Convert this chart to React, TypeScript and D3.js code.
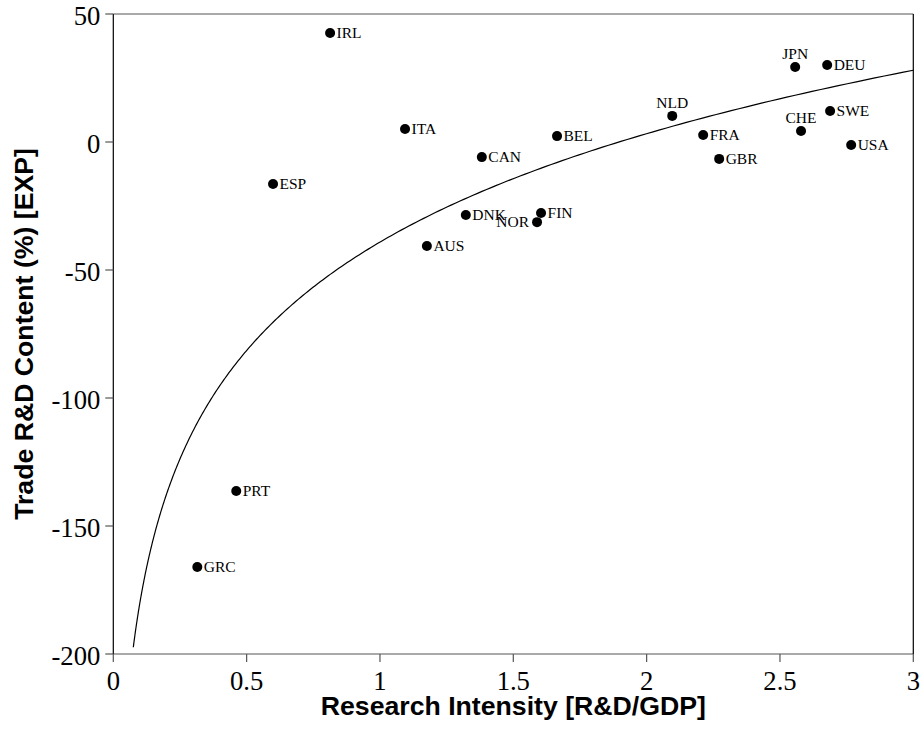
import React from "react";
import * as d3 from "d3";

const countries = ["IRL", "ITA", "CAN", "BEL", "ESP", "DNK", "NOR", "FIN", "AUS", "NLD", "FRA", "GBR", "JPN", "DEU", "CHE", "SWE", "USA", "PRT", "GRC"];
const researchIntensity = [0.813, 1.094, 1.382, 1.664, 0.599, 1.322, 1.589, 1.604, 1.176, 2.096, 2.212, 2.272, 2.557, 2.677, 2.579, 2.688, 2.767, 0.461, 0.315];
const tradeRD = [42.6, 5.1, -5.9, 2.3, -16.4, -28.5, -31.3, -27.7, -40.6, 10.2, 2.7, -6.6, 29.3, 30.1, 4.3, 12.1, -1.2, -136.3, -166.0];
const labelPos = ["right", "right", "right", "right", "right", "right", "left", "right", "right", "top", "right", "right", "top", "right", "top", "right", "right", "right", "right"];

const xTicks = [0, 0.5, 1, 1.5, 2, 2.5, 3];
const yTicks = [50, 0, -50, -100, -150, -200];

// logarithmic fit: y = FIT_A + FIT_B * ln(x)
const FIT_A = -39.1;
const FIT_B = 61.1;
const FIT_X_START = 0.075;
const FIT_X_END = 3;

const W = 924;
const H = 730;
const L = 113.3, R = 913.3, T = 14, B = 654;

export default function App() {
  const x = d3.scaleLinear().domain([0, 3]).range([L, R]);
  const y = d3.scaleLinear().domain([-200, 50]).range([B, T]);

  const fitXs = d3.range(0, 301).map((i) => FIT_X_START * Math.pow(FIT_X_END / FIT_X_START, i / 300));
  const line = d3
    .line<number>()
    .x((v) => x(v))
    .y((v) => y(FIT_A + FIT_B * Math.log(v)))
    .curve(d3.curveLinear);

  const serif = "'Liberation Serif', 'Times New Roman', serif";
  const sans = "'Liberation Sans', Arial, sans-serif";
  const tickColor = "#555";

  return (
    <svg width={W} height={H} style={{ position: "absolute", left: 0, top: 0, background: "#fff" }}>
      <rect x={0} y={0} width={W} height={H} fill="#fff" />
      {/* frame */}
      <line x1={L} x2={R} y1={T} y2={T} stroke={tickColor} strokeWidth={1.2} />
      <line x1={L} x2={R} y1={B} y2={B} stroke={tickColor} strokeWidth={1.2} />
      <line x1={L} x2={L} y1={T} y2={B} stroke="#000" strokeWidth={1.2} />
      <line x1={R} x2={R} y1={T} y2={B} stroke="#000" strokeWidth={1.2} />

      {yTicks.map((t) => (
        <g key={"y" + t}>
          <line x1={L - 8} x2={L} y1={y(t)} y2={y(t)} stroke={tickColor} strokeWidth={1.2} />
          <text x={L - 13} y={y(t) + 11} textAnchor="end" fontFamily={serif} fontSize={26.67} fill="#000">
            {String(t)}
          </text>
        </g>
      ))}
      {xTicks.map((t) => (
        <g key={"x" + t}>
          <line x1={x(t)} x2={x(t)} y1={B} y2={B + 8} stroke={tickColor} strokeWidth={1.2} />
          <text x={x(t)} y={690} textAnchor="middle" fontFamily={serif} fontSize={26.67} fill="#000">
            {String(t)}
          </text>
        </g>
      ))}

      <path d={line(fitXs) || ""} fill="none" stroke="#000" strokeWidth={1.2} />

      {countries.map((c, i) => {
        const cx = x(researchIntensity[i]);
        const cy = y(tradeRD[i]);
        const pos = labelPos[i];
        let tx = cx + 6.5, ty = cy + 5, anchor = "start";
        if (pos === "top") {
          tx = cx;
          ty = cy - 8;
          anchor = "middle";
        } else if (pos === "left") {
          tx = cx - 8;
          ty = cy + 5;
          anchor = "end";
        }
        return (
          <g key={c}>
            <circle cx={cx} cy={cy} r={5} fill="#000" />
            <text x={tx} y={ty} textAnchor={anchor} fontFamily={serif} fontSize={15.5} fill="#000">
              {c}
            </text>
          </g>
        );
      })}

      <text x={(L + R) / 2} y={715} textAnchor="middle" fontFamily={sans} fontWeight="bold" fontSize={26.67} fill="#000">
        Research Intensity [R&amp;D/GDP]
      </text>
      <text
        transform={`translate(33, ${(T + B) / 2}) rotate(-90)`}
        textAnchor="middle"
        fontFamily={sans}
        fontWeight="bold"
        fontSize={26.67}
        fill="#000"
      >
        Trade R&amp;D Content (%) [EXP]
      </text>
    </svg>
  );
}
